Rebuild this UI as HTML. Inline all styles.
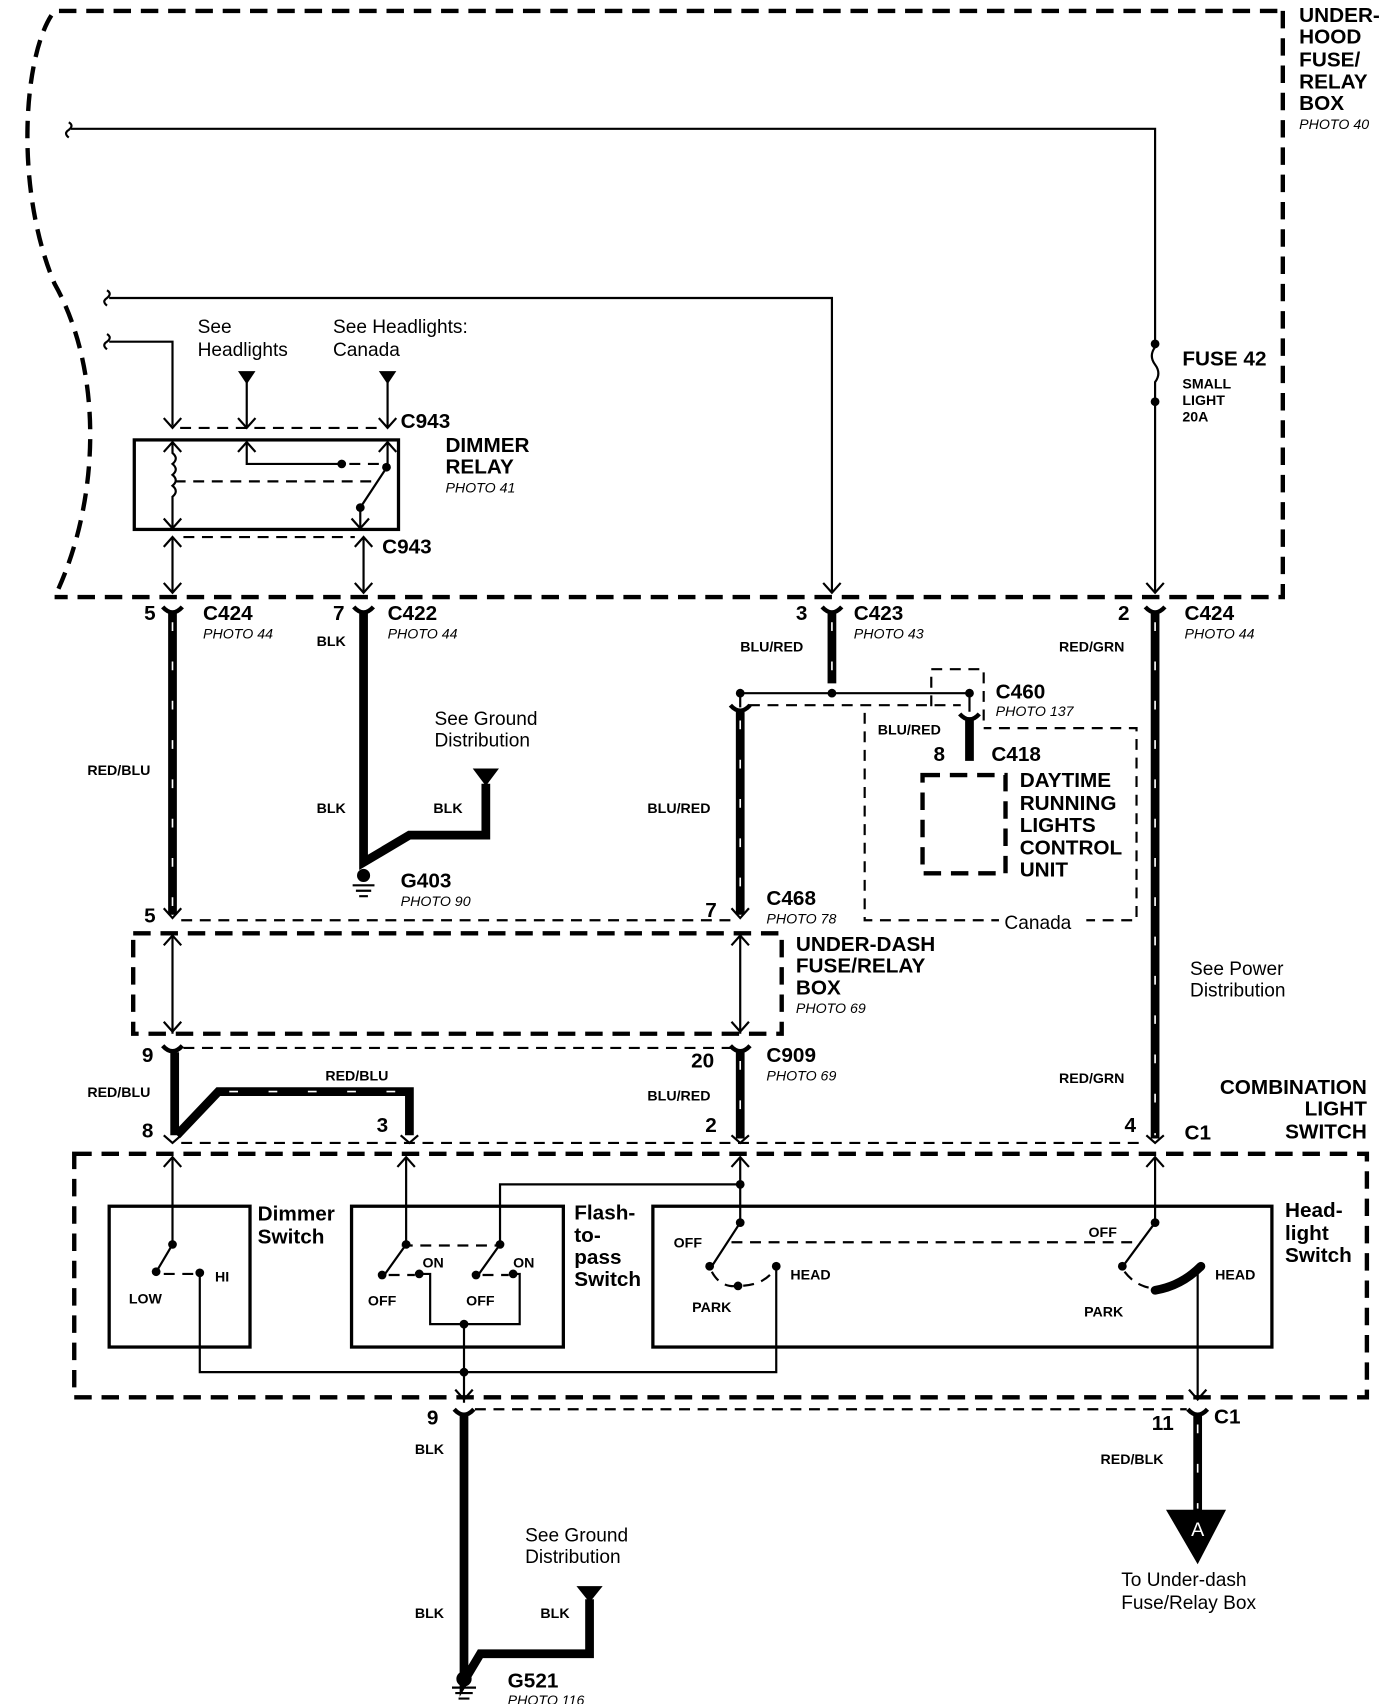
<!DOCTYPE html>
<html><head><meta charset="utf-8"><style>
html,body{margin:0;padding:0;background:#fff}
svg{display:block}
text{font-family:"Liberation Sans",sans-serif;fill:#000}
.b{font-weight:bold;font-size:19px}
.s{font-weight:bold;font-size:13px}
.i{font-style:italic;font-size:13px}
.n{font-size:17.5px}
.l{fill:none;stroke:#000;stroke-width:2}
.d{fill:none;stroke:#000;stroke-width:2;stroke-dasharray:10 7}
.D{fill:none;stroke:#000;stroke-width:4;stroke-dasharray:16 9}
.w{fill:none;stroke:#000;stroke-width:8}
.wd{fill:none;stroke:#fff;stroke-width:1.5;stroke-dasharray:8 28}
</style></head><body>
<svg width="1392" height="1704" viewBox="0 0 1275 1561" preserveAspectRatio="none" xmlns="http://www.w3.org/2000/svg">
<defs>
<path id="cd" d="M-8,-9 L0,0 L8,-9" fill="none" stroke="#000" stroke-width="2"/>
<path id="cu" d="M-8,9 L0,0 L8,9" fill="none" stroke="#000" stroke-width="2"/>
<path id="fk" d="M-9,-6 Q0,4 9,-6" fill="none" stroke="#000" stroke-width="4"/>
<circle id="dt" r="4" fill="#000"/>
</defs>

<path class="D" d="M1175,10 L1175,547 L50,547"/>
<path class="D" d="M1170,10 L50,10 C22,45 12,170 50,260 C95,340 92,460 50,547"/>
<text class="b" x="1190" y="20">UNDER-</text>
<text class="b" x="1190" y="40">HOOD</text>
<text class="b" x="1190" y="61">FUSE/</text>
<text class="b" x="1190" y="81">RELAY</text>
<text class="b" x="1190" y="101">BOX</text>
<text class="i" x="1190" y="118">PHOTO 40</text>

<path class="l" d="M63,112 q5,3 0,7 q-5,3 0,7" />
<path class="l" d="M65,118 L1058,118 L1058,312" stroke-width="3"/>
<use href="#dt" x="1058" y="315"/>
<path class="l" d="M1058,318 q-6,8 0,16 q6,8 0,16 L1058,365"/>
<use href="#dt" x="1058" y="368"/>
<path class="l" d="M1058,368 L1058,543"/>
<use href="#cd" x="1058" y="543"/>
<text class="b" x="1083" y="335">FUSE 42</text>
<text class="s" x="1083" y="356">SMALL</text>
<text class="s" x="1083" y="371">LIGHT</text>
<text class="s" x="1083" y="386">20A</text>

<path class="l" d="M98,266 q5,3 0,7 q-5,3 0,7"/>
<path class="l" d="M100,273 L762,273 L762,543"/>
<use href="#cd" x="762" y="543"/>
<path class="l" d="M98,306 q5,3 0,7 q-5,3 0,7"/>
<path class="l" d="M100,313 L158,313 L158,390"/>
<use href="#cd" x="158" y="392"/>

<text class="n" x="181" y="305">See</text>
<text class="n" x="181" y="326">Headlights</text>
<text class="n" x="305" y="305">See Headlights:</text>
<text class="n" x="305" y="326">Canada</text>
<path d="M218,340 L234,340 L226,352Z"/>
<path d="M347,340 L363,340 L355,352Z"/>
<path class="l" d="M226,350 L226,392 M355,350 L355,392"/>
<use href="#cd" x="226" y="392"/><use href="#cd" x="355" y="392"/>
<path class="d" d="M165,392 L350,392"/>
<text class="b" x="367" y="392">C943</text>

<rect x="123" y="403" width="242" height="82" fill="none" stroke="#000" stroke-width="3"/>
<use href="#cu" x="158" y="405"/><use href="#cu" x="226" y="405"/><use href="#cu" x="355" y="405"/>
<path class="l" d="M158,405 L158,415 q6,5 0,10 q6,5 0,10 q6,5 0,10 q6,5 0,10 L158,485"/>
<path class="l" d="M226,405 L226,425 L313,425"/>
<use href="#dt" x="313" y="425"/>
<path class="d" d="M320,425 L350,425"/>
<path class="l" d="M355,405 L355,427 L330,465 L330,485"/>
<use href="#dt" x="354" y="428"/><use href="#dt" x="330" y="465"/>
<path class="d" d="M160,441 L345,441"/>
<use href="#cd" x="158" y="484"/><use href="#cd" x="330" y="484"/>
<text class="b" x="408" y="414">DIMMER</text>
<text class="b" x="408" y="434">RELAY</text>
<text class="i" x="408" y="451">PHOTO 41</text>
<use href="#cu" x="158" y="492"/><use href="#cu" x="333" y="492"/>
<path class="d" d="M168,492 L325,492"/>
<text class="b" x="350" y="507">C943</text>
<path class="l" d="M158,492 L158,543 M333,492 L333,543"/>
<use href="#cd" x="158" y="543"/><use href="#cd" x="333" y="543"/>

<use href="#fk" x="158" y="562"/><use href="#fk" x="333" y="562"/><use href="#fk" x="762" y="562"/><use href="#fk" x="1058" y="562"/>
<text class="b" x="132" y="568" font-size="18">5</text>
<text class="b" x="186" y="568">C424</text><text class="i" x="186" y="585">PHOTO 44</text>
<text class="b" x="305" y="568" font-size="18">7</text>
<text class="b" x="355" y="568">C422</text><text class="i" x="355" y="585">PHOTO 44</text>
<text class="b" x="729" y="568" font-size="18">3</text>
<text class="b" x="782" y="568">C423</text><text class="i" x="782" y="585">PHOTO 43</text>
<text class="b" x="1024" y="568" font-size="18">2</text>
<text class="b" x="1085" y="568">C424</text><text class="i" x="1085" y="585">PHOTO 44</text>

<path class="w" d="M158,562 L158,838"/><path class="wd" d="M158,570 L158,835"/>
<text class="s" x="80" y="710">RED/BLU</text>
<path class="w" d="M333,562 L333,790 L375,765 L445,765 L445,718"/>
<path class="l" stroke="#fff" stroke-width="2" d="M333,620 L333,626 M333,680 L333,686"/>
<path d="M433,704 L457,704 L445,720Z"/>
<text class="s" x="290" y="592">BLK</text>
<text class="s" x="290" y="745">BLK</text>
<text class="s" x="397" y="745">BLK</text>
<text class="n" x="398" y="664">See Ground</text>
<text class="n" x="398" y="684">Distribution</text>
<circle cx="333" cy="802" r="6"/>
<path class="l" d="M323,811 L343,811 M326,816 L340,816 M329,821 L337,821"/>
<text class="b" x="367" y="813">G403</text><text class="i" x="367" y="830">PHOTO 90</text>

<path class="w" d="M762,562 L762,626"/><path class="wd" d="M762,570 L762,626"/>
<text class="s" x="678" y="597">BLU/RED</text>
<path class="l" d="M678,635 L888,635"/>
<use href="#dt" x="678" y="635"/><use href="#dt" x="762" y="635"/><use href="#dt" x="888" y="635"/>
<path class="l" d="M678,635 L678,648 M888,635 L888,652"/>
<use href="#fk" x="678" y="652"/><use href="#fk" x="888" y="660"/>
<path class="d" d="M686,646 L880,646"/>
<path class="w" d="M678,652 L678,838"/><path class="wd" d="M678,660 L678,835"/>
<text class="s" x="593" y="745">BLU/RED</text>
<path class="w" d="M888,660 L888,697"/>
<path class="d" d="M853,647 L853,613 L901,613 L901,665" stroke-dasharray="5 4"/>
<text class="b" x="912" y="640">C460</text><text class="i" x="912" y="656">PHOTO 137</text>
<text class="s" x="804" y="673">BLU/RED</text>
<text class="b" x="855" y="697" font-size="17">8</text>
<text class="b" x="908" y="697">C418</text>
<path class="d" d="M792,653 L792,843 L1041,843 L1041,667 L901,667" stroke-dasharray="5 4" stroke-width="1.3"/>
<rect x="915" y="835" width="80" height="18" fill="#fff"/>
<text class="n" x="920" y="851">Canada</text>
<path class="D" d="M845,710 L921,710 L921,800 L845,800 Z" stroke-dasharray="12 6"/>
<text class="b" x="934" y="721">DAYTIME</text>
<text class="b" x="934" y="742">RUNNING</text>
<text class="b" x="934" y="762">LIGHTS</text>
<text class="b" x="934" y="783">CONTROL</text>
<text class="b" x="934" y="803">UNIT</text>

<path class="w" d="M1058,562 L1058,1043"/><path class="wd" d="M1058,570 L1058,1040"/>
<path class="l" stroke="#fff" stroke-width="3" d="M1058,887 L1058,893 M1058,924 L1058,930"/>
<text class="s" x="970" y="597">RED/GRN</text>
<text class="n" x="1090" y="893">See Power</text>
<text class="n" x="1090" y="913">Distribution</text>

<use href="#cd" x="158" y="841"/><use href="#cd" x="678" y="841"/>
<path class="d" d="M166,843 L670,843"/>
<text class="b" x="132" y="845" font-size="18">5</text>
<text class="b" x="646" y="840" font-size="18">7</text>
<text class="b" x="702" y="829">C468</text><text class="i" x="702" y="846">PHOTO 78</text>
<path class="D" d="M122,855 L716,855 L716,947 L122,947 Z"/>
<path class="l" d="M158,855 L158,947 M678,855 L678,947"/>
<use href="#cu" x="158" y="857"/><use href="#cd" x="158" y="945"/>
<use href="#cu" x="678" y="857"/><use href="#cd" x="678" y="945"/>
<text class="b" x="729" y="871">UNDER-DASH</text>
<text class="b" x="729" y="891">FUSE/RELAY</text>
<text class="b" x="729" y="911">BOX</text>
<text class="i" x="729" y="928">PHOTO 69</text>

<use href="#fk" x="158" y="964"/><use href="#fk" x="678" y="964"/>
<path class="d" d="M168,960 L670,960"/>
<text class="b" x="130" y="973" font-size="17">9</text>
<text class="b" x="633" y="978" font-size="17">20</text>
<text class="b" x="702" y="973">C909</text><text class="i" x="702" y="990">PHOTO 69</text>
<path class="w" d="M160,964 L160,1040 M162,1040 L200,1000 L375,1000 L375,1040"/>
<path class="wd" d="M210,1000 L370,1000" stroke-dasharray="10 12"/>
<text class="s" x="80" y="1005">RED/BLU</text>
<text class="s" x="298" y="990">RED/BLU</text>
<path class="w" d="M678,964 L678,1043"/><path class="wd" d="M678,972 L678,1040"/>
<text class="s" x="593" y="1008">BLU/RED</text>
<text class="s" x="970" y="992">RED/GRN</text>
<text class="b" x="130" y="1042" font-size="17">8</text>
<text class="b" x="345" y="1037" font-size="17">3</text>
<text class="b" x="646" y="1037" font-size="17">2</text>
<text class="b" x="1030" y="1037" font-size="17">4</text>
<text class="b" x="1085" y="1044">C1</text>
<text class="b" x="1252" y="1002" text-anchor="end">COMBINATION</text>
<text class="b" x="1252" y="1022" text-anchor="end">LIGHT</text>
<text class="b" x="1252" y="1043" text-anchor="end">SWITCH</text>
<path class="l" d="M150,1040 L158,1047 L166,1040 M367,1040 L375,1047 L383,1040 M670,1040 L678,1047 L686,1040 M1050,1040 L1058,1047 L1066,1040"/>
<path class="d" d="M166,1047 L1050,1047"/>

<path class="D" d="M68,1057 L1252,1057 L1252,1280 L68,1280 Z"/>
<use href="#cu" x="158" y="1060"/><use href="#cu" x="372" y="1060"/><use href="#cu" x="678" y="1060"/><use href="#cu" x="1058" y="1060"/>

<rect x="100" y="1105" width="129" height="129" fill="none" stroke="#000" stroke-width="3"/>
<path class="l" d="M158,1060 L158,1140 L145,1162"/>
<use href="#dt" x="158" y="1140"/><use href="#dt" x="143" y="1165"/><use href="#dt" x="183" y="1166"/>
<path class="d" d="M150,1167 L178,1167" stroke-dasharray="5 4"/>
<path class="l" d="M183,1166 L183,1257 L711,1257 L711,1160"/>
<text class="s" x="118" y="1194">LOW</text>
<text class="s" x="197" y="1174">HI</text>
<text class="b" x="236" y="1118" font-size="18">Dimmer</text>
<text class="b" x="236" y="1139" font-size="18">Switch</text>

<rect x="322" y="1105" width="194" height="129" fill="none" stroke="#000" stroke-width="3"/>
<path class="l" d="M372,1060 L372,1140 L352,1168"/>
<use href="#dt" x="372" y="1140"/><use href="#dt" x="350" y="1168"/><use href="#dt" x="384" y="1167"/>
<path class="l" d="M678,1085 L458,1085 L458,1140 L438,1168"/>
<use href="#dt" x="678" y="1085"/>
<use href="#dt" x="458" y="1140"/><use href="#dt" x="436" y="1168"/><use href="#dt" x="470" y="1167"/>
<path class="d" d="M368,1141 L455,1141" stroke-dasharray="8 6"/>
<path class="d" d="M356,1168 L380,1168 M442,1168 L466,1168" stroke-dasharray="5 4"/>
<path class="l" d="M384,1167 L394,1167 L394,1213 L476,1213 L476,1167 L470,1167"/>
<use href="#dt" x="425" y="1213"/><use href="#dt" x="425" y="1257"/>
<path class="l" d="M425,1213 L425,1285"/>
<use href="#cd" x="425" y="1282"/>
<text class="s" x="337" y="1196">OFF</text><text class="s" x="387" y="1161">ON</text>
<text class="s" x="427" y="1196">OFF</text><text class="s" x="470" y="1161">ON</text>
<text class="b" x="526" y="1117" font-size="18">Flash-</text>
<text class="b" x="526" y="1138" font-size="18">to-</text>
<text class="b" x="526" y="1158" font-size="18">pass</text>
<text class="b" x="526" y="1178" font-size="18">Switch</text>

<rect x="598" y="1105" width="567" height="129" fill="none" stroke="#000" stroke-width="3"/>
<path class="l" d="M678,1060 L678,1120 L652,1160"/>
<use href="#dt" x="678" y="1120"/><use href="#dt" x="650" y="1160"/><use href="#dt" x="676" y="1178"/><use href="#dt" x="711" y="1160"/>
<path class="d" d="M652,1165 Q660,1180 676,1178 Q700,1178 710,1162" stroke-dasharray="6 5"/>
<path class="d" d="M670,1138 L1045,1138"/>
<path class="l" d="M1058,1060 L1058,1120 L1030,1158"/>
<use href="#dt" x="1058" y="1120"/><use href="#dt" x="1028" y="1160"/>
<path class="d" d="M1030,1165 Q1040,1178 1055,1180" stroke-dasharray="6 5"/>
<path d="M1058,1182 Q1082,1178 1100,1160" fill="none" stroke="#000" stroke-width="8" stroke-linecap="round"/>
<path class="l" d="M1097,1160 L1097,1280"/>
<use href="#cd" x="1097" y="1282"/>
<text class="s" x="617" y="1143">OFF</text>
<text class="s" x="724" y="1172">HEAD</text>
<text class="s" x="634" y="1202">PARK</text>
<text class="s" x="997" y="1133">OFF</text>
<text class="s" x="1113" y="1172">HEAD</text>
<text class="s" x="993" y="1206">PARK</text>
<text class="b" x="1177" y="1115" font-size="18">Head-</text>
<text class="b" x="1177" y="1136" font-size="18">light</text>
<text class="b" x="1177" y="1156" font-size="18">Switch</text>

<use href="#fk" x="425" y="1297"/><use href="#fk" x="1097" y="1297"/>
<path class="d" d="M435,1291 L1087,1291"/>
<text class="b" x="391" y="1305" font-size="17">9</text>
<text class="b" x="1055" y="1310" font-size="17">11</text>
<text class="b" x="1112" y="1304">C1</text>
<path class="w" d="M425,1297 L425,1540 L440,1515 L540,1515 L540,1465"/>
<path class="l" stroke="#fff" stroke-width="3" d="M425,1358 L425,1364 M425,1408 L425,1414"/>
<path d="M528,1453 L552,1453 L540,1468Z"/>
<text class="s" x="380" y="1332">BLK</text>
<text class="s" x="380" y="1482">BLK</text>
<text class="s" x="495" y="1482">BLK</text>
<text class="n" x="481" y="1412">See Ground</text>
<text class="n" x="481" y="1432">Distribution</text>
<circle cx="425" cy="1538" r="7"/>
<path class="l" d="M414,1546 L436,1546 M417,1551 L433,1551 M420,1556 L430,1556"/>
<text class="b" x="465" y="1546">G521</text><text class="i" x="465" y="1562">PHOTO 116</text>
<path class="w" d="M1097,1297 L1097,1385"/><path class="wd" d="M1097,1305 L1097,1382"/>
<text class="s" x="1008" y="1341">RED/BLK</text>
<path d="M1068,1383 L1123,1383 L1097,1433Z"/>
<text x="1097" y="1407" text-anchor="middle" font-size="18" style="fill:#fff">A</text>
<text class="n" x="1027" y="1453">To Under-dash</text>
<text class="n" x="1027" y="1474">Fuse/Relay Box</text>
</svg>
</body></html>
